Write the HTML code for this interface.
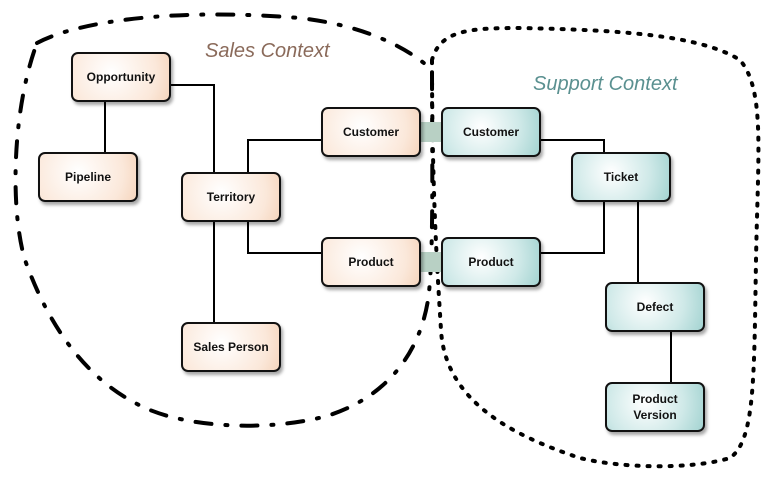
<!DOCTYPE html>
<html><head><style>
html,body{margin:0;padding:0;background:#fff;}
body{width:772px;height:478px;position:relative;overflow:hidden;font-family:"Liberation Sans",sans-serif;}
.n{position:absolute;width:98px;height:47px;border:2px solid #111;border-radius:7px;box-sizing:border-box;display:flex;align-items:center;justify-content:center;text-align:center;font-size:12px;font-weight:bold;color:#111;box-shadow:2px 3px 3px rgba(0,0,0,0.35);line-height:16px;}
.s{background:radial-gradient(circle at 40% 40%,#fff 0%,#fbe8da 70%,#f5d5bd 100%);}
.t{background:radial-gradient(circle at 40% 40%,#fff 0%,#cfe9e8 60%,#a3d3d1 100%);}
.lbl{position:absolute;font-style:italic;font-size:20px;}
</style></head><body>
<svg width="772" height="478" style="position:absolute;left:0;top:0">
<g fill="none" stroke="#000" stroke-width="4" stroke-linecap="round">
<path d="M37,43 C80,20 180,8 300,18 C360,25 405,45 432,70 C432,150 434,260 428,300 C420,350 390,395 330,415 C280,430 200,430 150,410 C90,385 50,330 25,260 C10,210 12,110 37,43" stroke-dasharray="16,14,2,14"/>
<path d="M432,60 C440,30 470,28 520,28 C620,30 700,35 740,60 C765,90 758,150 756,260 C754,380 755,440 730,458 C690,470 620,468 580,458 C510,435 445,400 441,330 C438,280 432,200 432,60" stroke-dasharray="2,9"/>
</g>
<g stroke="#000" stroke-width="2" fill="none">
<path d="M171,85 H214 V172"/>
<path d="M105,101 V152"/>
<path d="M248,172 V140 H321"/>
<path d="M248,221 V253 H321"/>
<path d="M214,221 V322"/>
<path d="M541,140 H604 V152"/>
<path d="M604,201 V253 H541"/>
<path d="M638,201 V282"/>
<path d="M671,331 V382"/>
</g>
<rect x="421" y="122" width="20" height="20" fill="#b8d0c4"/>
<rect x="421" y="252" width="20" height="20" fill="#b8d0c4"/>
</svg>
<div class="lbl" style="left:205px;top:40px;color:#8a6a5a">Sales Context</div>
<div class="lbl" style="left:533px;top:73px;color:#5a9090">Support Context</div>
<div class="n s" style="left:71px;top:52px;width:100px;height:50px">Opportunity</div>
<div class="n s" style="left:38px;top:152px;width:100px;height:50px">Pipeline</div>
<div class="n s" style="left:181px;top:172px;width:100px;height:50px">Territory</div>
<div class="n s" style="left:321px;top:107px;width:100px;height:50px">Customer</div>
<div class="n s" style="left:321px;top:237px;width:100px;height:50px">Product</div>
<div class="n s" style="left:181px;top:322px;width:100px;height:50px">Sales Person</div>
<div class="n t" style="left:441px;top:107px;width:100px;height:50px">Customer</div>
<div class="n t" style="left:571px;top:152px;width:100px;height:50px">Ticket</div>
<div class="n t" style="left:441px;top:237px;width:100px;height:50px">Product</div>
<div class="n t" style="left:605px;top:282px;width:100px;height:50px">Defect</div>
<div class="n t" style="left:605px;top:382px;width:100px;height:50px">Product<br>Version</div>
</body></html>
